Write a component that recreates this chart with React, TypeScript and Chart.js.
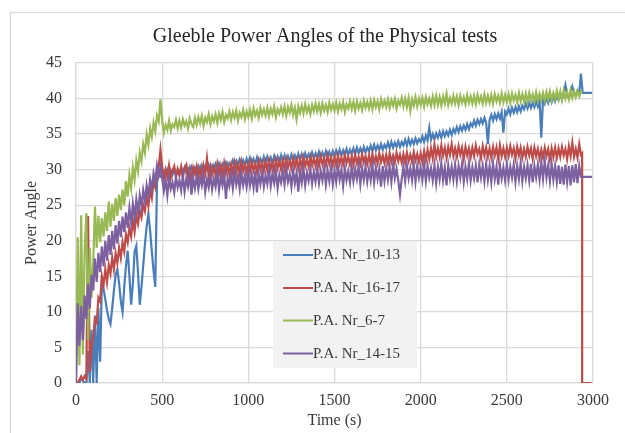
import React, { useEffect, useRef } from "react";
import { Chart, registerables } from "chart.js";

Chart.register(...registerables);

const TITLE = "Gleeble Power Angles of the Physical tests";
const X_TITLE = "Time (s)";
const Y_TITLE = "Power Angle";
const SERIES_LABELS = ["P.A. Nr_10-13", "P.A. Nr_16-17", "P.A. Nr_6-7", "P.A. Nr_14-15"];
const SERIES_COLORS = ["#4a7ebb", "#be4b48", "#98b954", "#7d60a0"];
const X_TICKS = [0, 500, 1000, 1500, 2000, 2500, 3000];
const Y_TICKS = [0, 5, 10, 15, 20, 25, 30, 35, 40, 45];

// sampling interval of the main records (s); sample i is at time i * STEP
const STEP = 10;

const BLUE = [
  0, 0, 0, 0.8, 0.3, 0, 0, 4.5, 0, 7.5,
  0, 9.5, 0, 10.5, 3, 14, 13.2, 11.8, 10.2, 9.0,
  8.3, 10.5, 13, 15.2, 16, 14, 11.5, 10, 13.5, 16.5,
  18.6, 15, 11, 14, 18.5, 19.3, 15.5, 11, 13.5, 16.5,
  19.5, 22, 23.8, 21.5, 18.5, 15.8, 13.5, 28.2, 29.6, 29.0,
  29.0, 29.8, 29.2, 30.0, 29.1, 29.9, 29.3, 30.1, 29.2, 30.0,
  29.4, 30.2, 29.5, 30.3, 29.6, 30.2, 29.7, 30.4, 29.6, 30.3,
  29.8, 30.5, 29.8, 30.6, 29.9, 30.5, 30.0, 30.7, 29.9, 30.6,
  30.1, 30.8, 30.1, 30.9, 30.2, 30.8, 30.3, 31.0, 30.2, 30.9,
  30.5, 31.3, 30.6, 31.2, 30.4, 31.4, 30.7, 31.3, 30.6, 31.5,
  30.6, 31.6, 30.8, 31.5, 30.7, 31.7, 30.9, 31.5, 30.8, 31.8,
  30.9, 31.8, 31.0, 31.7, 30.9, 31.9, 31.1, 31.8, 31.0, 32.0,
  31.1, 32.0, 31.2, 31.9, 31.2, 32.1, 31.3, 32.0, 31.2, 32.2,
  31.4, 32.2, 31.4, 32.3, 31.5, 32.2, 31.5, 32.4, 31.6, 32.3,
  31.6, 32.5, 31.6, 32.4, 31.7, 32.6, 31.8, 32.5, 31.7, 32.6,
  31.9, 32.7, 31.9, 32.8, 32.0, 32.7, 32.0, 32.9, 32.1, 32.8,
  32.2, 33.0, 32.2, 33.1, 32.3, 33.0, 32.3, 33.2, 32.4, 33.1,
  32.6, 33.4, 32.6, 33.5, 32.7, 33.4, 32.8, 33.6, 32.8, 33.5,
  33.0, 33.8, 33.0, 33.9, 33.1, 33.8, 33.2, 34.0, 33.2, 33.9,
  33.4, 34.2, 33.4, 34.3, 33.5, 34.2, 33.6, 34.4, 33.7, 34.3,
  33.9, 34.7, 33.9, 34.8, 34.1, 35.9, 34.2, 35.0, 34.3, 35.1,
  34.5, 35.3, 34.5, 35.4, 34.7, 35.4, 34.8, 35.6, 34.9, 35.7,
  35.2, 36.0, 35.3, 36.1, 35.5, 36.2, 35.6, 36.4, 35.7, 36.5,
  36.1, 36.9, 36.2, 37.0, 36.4, 37.1, 36.5, 37.3, 36.6, 33.6,
  37.0, 37.7, 36.9, 37.8, 37.1, 37.9, 37.2, 38.1, 35.2, 38.2,
  37.8, 38.6, 37.8, 38.7, 38.0, 38.8, 38.1, 38.9, 38.2, 39.0,
  38.5, 39.3, 38.6, 39.4, 38.7, 39.4, 38.8, 39.6, 38.9, 39.7,
  34.5, 40.0, 39.3, 40.1, 39.4, 40.2, 39.5, 40.3, 39.6, 40.4,
  39.8, 40.6, 39.9, 40.7, 41.9, 40.6, 40.1, 40.8, 41.7, 40.9,
  40.4, 41.1, 40.6, 43.5,
];
const BLUE_TAIL_T = [2940, 2995];
const BLUE_TAIL = [40.8, 40.8];

const RED = [
  0, 0, 0.5, 0.9, 0.4, 1.0, 0.6, 23.5, 1.5, 5.0,
  6.5, 9.0, 8.5, 12.0, 11.5, 15.0, 13.8, 16.0, 14.2, 16.6,
  15.4, 17.6, 16.0, 18.2, 16.9, 19.0, 17.6, 19.8, 18.5, 20.9,
  19.8, 21.8, 20.6, 22.9, 21.3, 23.6, 22.4, 24.2, 23.3, 25.1,
  24.2, 26.2, 24.9, 27.1, 26.0, 28.2, 27.5, 29.8, 30.4, 32.8,
  30.4, 28.7, 30.0, 29.0, 30.6, 28.8, 29.9, 30.5, 28.9, 30.1,
  29.2, 30.4, 28.8, 30.2, 30.7, 29.0, 30.1, 28.7, 30.3, 29.4,
  30.5, 29.1, 30.2, 28.9, 30.6, 29.5, 31.6, 29.0, 30.4, 29.3,
  30.4, 29.2, 30.8, 29.4, 30.5, 29.1, 30.9, 29.5, 30.6, 29.3,
  30.7, 29.5, 31.0, 29.6, 30.8, 29.4, 31.1, 29.8, 30.7, 29.6,
  30.9, 29.7, 31.1, 29.9, 30.8, 29.6, 31.2, 30.0, 31.0, 29.8,
  31.1, 29.9, 31.3, 30.1, 31.0, 29.8, 31.4, 30.2, 31.2, 30.0,
  31.3, 30.1, 31.5, 30.3, 31.2, 30.2, 31.6, 30.4, 31.4, 30.2,
  31.5, 30.3, 31.7, 30.5, 31.4, 30.4, 31.8, 30.6, 31.6, 30.5,
  31.7, 30.5, 31.9, 30.7, 31.6, 30.6, 32.0, 30.8, 31.7, 30.6,
  31.8, 30.6, 32.0, 30.8, 31.7, 30.7, 32.1, 30.9, 31.8, 30.7,
  31.9, 30.7, 32.1, 30.9, 31.8, 30.8, 32.2, 31.0, 31.9, 30.8,
  32.0, 30.8, 32.2, 31.0, 31.9, 30.9, 32.3, 31.1, 32.0, 30.9,
  32.1, 30.9, 32.3, 31.1, 32.0, 31.0, 32.4, 31.2, 32.1, 31.0,
  32.2, 31.0, 32.4, 31.2, 32.1, 31.1, 32.5, 31.3, 32.2, 31.1,
  32.3, 31.1, 32.6, 31.3, 32.8, 31.5, 33.0, 31.6, 33.5, 31.8,
  33.0, 31.8, 33.4, 32.0, 33.1, 31.7, 33.2, 32.1, 33.6, 31.9,
  33.0, 31.8, 33.3, 32.1, 33.1, 31.5, 33.2, 32.0, 33.0, 31.7,
  33.1, 31.9, 33.4, 32.2, 32.9, 31.6, 33.3, 32.0, 33.1, 31.8,
  33.0, 31.7, 33.2, 32.0, 33.1, 31.5, 33.4, 31.9, 33.0, 31.8,
  33.1, 31.9, 33.3, 32.1, 33.0, 31.6, 33.2, 32.0, 33.1, 31.7,
  32.9, 31.8, 33.2, 32.0, 33.0, 31.5, 33.1, 31.9, 32.9, 31.6,
  32.8, 31.7, 33.1, 31.9, 32.9, 31.4, 33.0, 31.8, 33.1, 31.7,
  33.0, 31.8, 33.2, 32.0, 32.9, 31.5, 33.3, 31.9, 33.8, 31.8,
  32.9, 31.7, 33.6, 32.1,
];
const RED_TAIL_T = [2937, 2937, 2992];
const RED_TAIL = [32.3, 0, 0];

const GREEN = [
  0, 20.5, 2.5, 23.6, 4.0, 18.5, 23.9, 6.0, 19.0, 12.0,
  17.0, 24.8, 19.0, 23.5, 19.8, 23.2, 20.6, 24.0, 21.4, 25.5,
  22.0, 25.2, 22.8, 26.0, 23.5, 26.5, 24.3, 27.2, 25.0, 28.4,
  26.2, 29.2, 27.4, 30.3, 28.6, 31.3, 29.8, 32.4, 31.2, 33.6,
  32.4, 34.9, 33.5, 35.8, 34.6, 36.6, 35.4, 37.6, 36.8, 39.9,
  36.8, 35.2, 36.3, 35.6, 36.9, 35.5, 36.4, 36.0, 37.0, 35.8,
  36.9, 35.9, 37.1, 36.2, 36.8, 35.8, 37.2, 36.4, 36.0, 37.3,
  36.3, 37.4, 36.5, 37.6, 36.2, 37.3, 36.7, 37.8, 36.4, 37.5,
  36.8, 37.8, 36.6, 37.9, 37.0, 38.1, 36.7, 37.7, 37.2, 38.2,
  37.0, 38.1, 37.3, 38.3, 36.9, 38.0, 37.4, 38.4, 37.1, 38.2,
  37.4, 38.4, 37.2, 38.6, 37.6, 38.3, 37.3, 38.7, 37.7, 38.5,
  37.6, 38.7, 37.5, 38.6, 37.8, 38.9, 37.4, 38.5, 37.9, 38.8,
  37.8, 38.9, 37.6, 38.8, 38.0, 39.1, 37.7, 38.7, 37.1, 38.9,
  38.0, 39.0, 37.9, 39.2, 38.1, 38.9, 37.8, 39.1, 38.2, 39.3,
  38.2, 39.2, 38.0, 39.3, 38.3, 39.1, 38.1, 39.4, 38.4, 39.2,
  38.3, 39.4, 38.2, 39.3, 38.5, 39.5, 38.1, 39.2, 38.6, 39.6,
  38.5, 39.5, 38.3, 39.6, 38.6, 39.4, 38.4, 39.7, 38.7, 39.5,
  38.6, 39.7, 38.5, 39.8, 38.8, 39.6, 38.5, 39.9, 38.9, 39.7,
  38.8, 39.9, 38.7, 39.8, 39.0, 40.0, 38.6, 39.7, 39.1, 40.1,
  38.9, 40.0, 38.8, 40.1, 38.3, 39.9, 39.0, 40.2, 38.9, 40.0,
  39.1, 40.1, 38.9, 40.2, 39.2, 40.0, 39.0, 40.3, 39.1, 40.4,
  39.1, 40.2, 39.0, 40.3, 39.3, 40.7, 39.1, 40.1, 39.3, 40.4,
  39.3, 40.3, 39.1, 40.4, 39.4, 40.2, 39.2, 40.5, 39.4, 40.3,
  39.3, 40.4, 39.2, 40.5, 39.5, 40.3, 39.3, 40.6, 39.4, 40.4,
  39.4, 40.5, 39.3, 40.6, 39.6, 40.4, 39.4, 40.7, 39.5, 40.5,
  39.5, 40.6, 39.4, 40.7, 39.7, 40.5, 39.5, 40.8, 39.6, 40.6,
  39.6, 40.7, 39.5, 40.8, 39.8, 40.6, 39.6, 40.9, 39.7, 40.7,
  39.8, 40.8, 39.7, 40.9, 39.9, 41.0, 39.8, 40.8, 39.9, 41.1,
  39.9, 41.0, 39.8, 41.1, 40.0, 40.9, 39.9, 41.2, 40.1, 41.0,
  40.2, 41.1, 40.3, 41.0,
];
const GREEN_TAIL_T = [2940];
const GREEN_TAIL = [40.9];

const PURPLE = [
  0, 11.2, 5.2, 10.8, 6.0, 12.3, 9.0, 14.0, 10.5, 15.2,
  13.0, 17.5, 14.2, 18.3, 15.6, 19.2, 16.4, 20.0, 17.2, 20.8,
  18.0, 21.4, 18.8, 22.2, 19.6, 22.8, 20.5, 23.4, 21.2, 24.0,
  21.8, 24.6, 22.5, 25.2, 23.3, 25.8, 24.0, 26.4, 24.8, 27.1,
  25.6, 27.8, 26.3, 28.6, 27.2, 29.5, 28.4, 30.6, 29.2, 30.4,
  28.8, 27.0, 28.6, 26.4, 28.9, 27.3, 28.2, 26.8, 29.0, 27.5,
  28.5, 27.1, 29.2, 26.9, 28.7, 27.6, 29.4, 26.5, 28.8, 27.4,
  29.1, 27.3, 28.9, 27.8, 29.5, 26.9, 28.6, 27.5, 29.3, 27.2,
  28.7, 27.6, 29.6, 27.1, 29.0, 27.8, 29.4, 25.9, 28.8, 27.7,
  29.3, 27.4, 29.7, 27.9, 29.1, 27.3, 29.5, 27.8, 29.2, 27.6,
  29.6, 27.8, 29.3, 27.5, 29.8, 26.8, 29.4, 28.0, 29.7, 27.6,
  29.2, 28.0, 29.9, 27.7, 29.5, 28.1, 29.8, 27.4, 29.3, 28.2,
  29.7, 27.9, 30.0, 28.3, 29.4, 27.6, 29.9, 28.1, 29.6, 26.9,
  29.8, 28.2, 30.1, 27.8, 29.6, 28.4, 30.0, 28.0, 29.7, 28.3,
  30.1, 28.1, 29.8, 28.5, 30.2, 27.9, 29.9, 28.4, 30.3, 28.0,
  29.9, 28.3, 30.4, 28.6, 30.0, 27.7, 30.2, 28.5, 29.8, 28.2,
  30.3, 28.4, 30.1, 28.7, 30.5, 28.0, 30.2, 28.6, 30.4, 28.3,
  30.0, 28.5, 30.6, 28.2, 30.3, 28.7, 30.1, 27.6, 30.5, 28.4,
  30.2, 28.6, 30.4, 28.3, 30.7, 28.8, 30.1, 28.5, 26.5, 28.7,
  30.4, 28.4, 30.6, 28.8, 30.2, 28.5, 30.7, 28.3, 30.5, 28.9,
  30.3, 28.6, 30.8, 28.4, 30.5, 28.9, 30.2, 28.5, 30.6, 28.1,
  30.4, 28.7, 30.9, 28.5, 30.3, 27.8, 30.6, 28.8, 30.4, 28.6,
  30.7, 28.4, 30.5, 28.9, 30.8, 28.3, 30.4, 28.7, 30.9, 28.5,
  30.3, 28.8, 30.6, 28.2, 30.7, 28.9, 30.5, 28.4, 30.8, 28.6,
  30.5, 28.3, 30.9, 28.7, 30.4, 27.9, 30.6, 28.8, 30.3, 28.5,
  30.8, 28.6, 30.4, 28.9, 30.7, 28.3, 30.5, 28.7, 30.9, 28.4,
  30.4, 28.8, 30.6, 28.5, 30.8, 28.2, 30.5, 28.9, 30.7, 28.6,
  31.0, 28.7, 31.2, 28.9, 30.6, 28.4, 30.8, 28.6, 30.5, 28.3,
  30.6, 28.0, 30.4, 27.9, 30.7, 28.3, 30.5, 27.8, 30.6, 28.2,
  30.8, 28.1, 30.5, 29.0,
];
const PURPLE_TAIL_T = [2940, 2995];
const PURPLE_TAIL = [29.0, 29.0];

const FONT_FAMILY = '"Liberation Serif", "Times New Roman", serif';
const TEXT_COLOR = "#3a3a3a";
const GRID_COLOR = "#d9d9d9";

function toPoints(values: number[], tailT: number[], tailV: number[]) {
  const pts = values.map((v, i) => ({ x: i * STEP, y: v }));
  tailT.forEach((t, i) => pts.push({ x: t, y: tailV[i] }));
  return pts;
}

const frameAndLegend = {
  id: "frameAndLegend",
  beforeDraw(chart: any) {
    const { ctx, width, height } = chart;
    ctx.save();
    ctx.fillStyle = "#ffffff";
    ctx.fillRect(0, 0, width, height);
    ctx.strokeStyle = GRID_COLOR;
    ctx.lineWidth = 1.2;
    ctx.strokeRect(10.5, 12.5, width + 20, height + 20);
    ctx.restore();
  },
  afterDatasetsDraw(chart: any) {
    const { ctx } = chart;
    ctx.save();
    const bx = 273;
    const by = 241;
    const bw = 144;
    const bh = 127;
    ctx.fillStyle = "#f2f2f2";
    ctx.fillRect(bx, by, bw, bh);
    ctx.font = `15px ${FONT_FAMILY}`;
    ctx.textBaseline = "middle";
    ctx.textAlign = "left";
    const rowY = [255, 288, 320.5, 353.5];
    SERIES_LABELS.forEach((label, i) => {
      const y = rowY[i];
      ctx.strokeStyle = SERIES_COLORS[i];
      ctx.lineWidth = 2;
      ctx.beginPath();
      ctx.moveTo(283, y);
      ctx.lineTo(313, y);
      ctx.stroke();
      ctx.fillStyle = TEXT_COLOR;
      ctx.fillText(label, 313, y + 0.5);
    });
    ctx.restore();
  },
};

export default function App() {
  const canvasRef = useRef<HTMLCanvasElement | null>(null);

  useEffect(() => {
    if (!canvasRef.current) return;
    const seriesValues = [
      toPoints(BLUE, BLUE_TAIL_T, BLUE_TAIL),
      toPoints(RED, RED_TAIL_T, RED_TAIL),
      toPoints(GREEN, GREEN_TAIL_T, GREEN_TAIL),
      toPoints(PURPLE, PURPLE_TAIL_T, PURPLE_TAIL),
    ];
    const chart = new Chart(canvasRef.current, {
      type: "line",
      data: {
        datasets: seriesValues.map((pts, i) => ({
          label: SERIES_LABELS[i],
          data: pts,
          borderColor: SERIES_COLORS[i],
          backgroundColor: SERIES_COLORS[i],
          borderWidth: 2.2,
          pointRadius: 0,
          tension: 0,
          fill: false,
          order: 4 - i,
        })),
      },
      options: {
        animation: false,
        responsive: false,
        devicePixelRatio: 1,
        layout: { padding: { left: 25, right: 0, top: 0, bottom: 0 } },
        plugins: {
          legend: { display: false },
          tooltip: { enabled: false },
          title: {
            display: true,
            text: TITLE,
            color: "#262626",
            font: { family: FONT_FAMILY, size: 20, weight: "normal" },
            padding: { top: 25, bottom: 14 },
          },
        },
        scales: {
          x: {
            type: "linear",
            min: X_TICKS[0],
            max: X_TICKS[X_TICKS.length - 1],
            afterBuildTicks: (scale: any) => {
              scale.ticks = X_TICKS.map((v) => ({ value: v }));
            },
            afterFit: (scale: any) => {
              scale.height = 50;
            },
            ticks: {
              color: TEXT_COLOR,
              font: { family: FONT_FAMILY, size: 16 },
              padding: 8,
              maxRotation: 0,
              callback: (v: any) => String(v),
            },
            grid: { color: GRID_COLOR, lineWidth: 1.3, drawTicks: false },
            border: { display: true, color: GRID_COLOR, width: 1.3 },
            title: {
              display: true,
              text: X_TITLE,
              color: TEXT_COLOR,
              font: { family: FONT_FAMILY, size: 16 },
              padding: { top: 0, bottom: 3 },
            },
          },
          y: {
            type: "linear",
            min: Y_TICKS[0],
            max: Y_TICKS[Y_TICKS.length - 1],
            afterBuildTicks: (scale: any) => {
              scale.ticks = Y_TICKS.map((v) => ({ value: v }));
            },
            afterFit: (scale: any) => {
              scale.width = 51;
            },
            ticks: {
              color: TEXT_COLOR,
              font: { family: FONT_FAMILY, size: 16 },
              padding: 14,
              callback: (v: any) => String(v),
            },
            grid: { color: GRID_COLOR, lineWidth: 1.3, drawTicks: false },
            border: { display: true, color: GRID_COLOR, width: 1.3 },
            title: {
              display: true,
              text: Y_TITLE,
              color: TEXT_COLOR,
              font: { family: FONT_FAMILY, size: 16 },
              padding: { top: -2.5, bottom: 0 },
            },
          },
          spacer: {
            type: "linear",
            position: "right",
            display: true,
            min: 0,
            max: 1,
            ticks: { display: false },
            grid: { display: false, drawTicks: false },
            border: { display: false },
            afterFit: (scale: any) => {
              scale.width = 32;
            },
          },
        },
      },
      plugins: [frameAndLegend],
    } as any);
    return () => chart.destroy();
  }, []);

  return (
    <div style={{ position: "fixed", left: 0, top: 0, width: 625, height: 433 }}>
      <canvas ref={canvasRef} width={625} height={433} style={{ width: 625, height: 433 }} />
    </div>
  );
}
